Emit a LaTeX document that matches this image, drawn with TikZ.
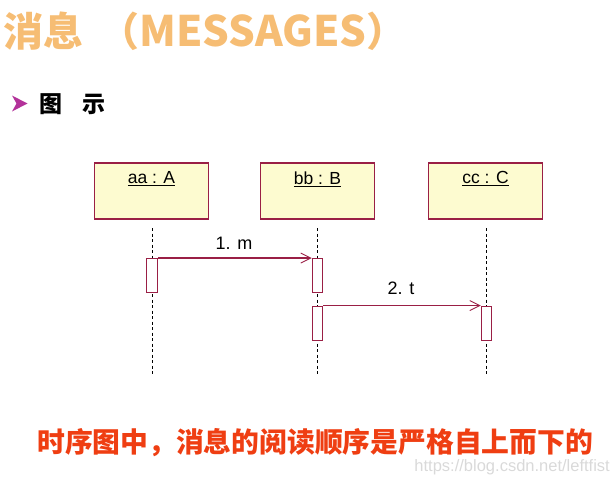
\documentclass[tikz,border=0pt]{standalone}
\usepackage{fontspec}
\setmainfont{Liberation Sans}
\newfontfamily\cjk{Noto Sans CJK SC}
\usetikzlibrary{arrows.meta}
\definecolor{boxfill}{HTML}{FDFBD0}
\definecolor{boxline}{HTML}{9A1F45}
\definecolor{titlecol}{HTML}{F6BD74}
\definecolor{bulletcol}{HTML}{B3329A}
\definecolor{notecol}{HTML}{EF3E12}
\definecolor{wmcol}{HTML}{D9D9D9}
\begin{document}
\begin{tikzpicture}[x=1pt,y=-1pt,
  objbox/.style={draw=boxline, line width=1.4pt, fill=boxfill, minimum width=114pt, minimum height=56pt, inner sep=0pt},
  objlabel/.style={font=\fontsize{17.5}{20}\selectfont, anchor=north, inner sep=0pt},
  lifeline/.style={black, line width=0.9pt, dash pattern=on 3pt off 2.5pt},
  actbox/.style={draw=boxline, line width=1pt, fill=white, minimum width=10.5pt, minimum height=34pt, inner sep=0pt},
  msg/.style={boxline, line width=1.1pt, -{Straight Barb[length=10pt,width=10pt,line width=0.9pt]}},
  msglabel/.style={font=\fontsize{18}{20}\selectfont, inner sep=1pt}
]
\useasboundingbox (0,0) rectangle (611,483);
% title
\node[anchor=west, inner sep=0pt, text=titlecol, font=\cjk\bfseries\fontsize{40}{44}\selectfont] (title) at (3,31) {消息\hspace{16pt}（{\fontsize{42}{46}\selectfont MESSAGES}）};
% bullet
\path[fill=bulletcol] (12,95.5) -- (27.5,103.5) -- (12,111.5) -- (16.5,103.5) -- cycle;
\node[anchor=west, inner sep=0pt, font=\cjk\bfseries\fontsize{23}{26}\selectfont] (sub) at (39,104) {图\hspace{20pt}示};
% objects
\node[objbox] (aa) at (151.5,191) {};
\node[objbox] (bb) at (317.5,191) {};
\node[objbox] (cc) at (485.5,191) {};
\node[objlabel] (aaL) at ([yshift=-9pt]aa.north) {\underline{aa : A}};
\node[objlabel] (bbL) at ([yshift=-9pt]bb.north) {\underline{bb : B}};
\node[objlabel] (ccL) at ([yshift=-9pt]cc.north) {\underline{cc : C}};
% lifelines
\coordinate (aTop) at (152,228);
\coordinate (aBot) at (152,376);
\coordinate (bTop) at (317.5,228);
\coordinate (bBot) at (317.5,376);
\coordinate (cTop) at (486.5,228);
\coordinate (cBot) at (486.5,376);
\draw[lifeline] (aTop) -- (aBot);
\draw[lifeline] (bTop) -- (bBot);
\draw[lifeline] (cTop) -- (cBot);
% activations
\node[actbox] (actA) at (152,275.5) {};
\node[actbox] (actB1) at (317.5,275.5) {};
\node[actbox] (actB2) at (317.5,323) {};
\node[actbox] (actC) at (486.5,323) {};
% messages
\draw[msg] (actA.north east) -- (actB1.north west);
\draw[msg] (actB2.north east) -- (actC.north west);
\node[msglabel] (m1) at (234,243) {1. m};
\node[msglabel] (m2) at (401,288) {2. t};
% note
\node[anchor=west, inner sep=0pt, text=notecol, font=\cjk\bfseries\fontsize{27.8}{30}\selectfont] (note) at (37,443) {时序图中，消息的阅读顺序是严格自上而下的};
% watermark
\node[anchor=east, inner sep=0pt, text=wmcol, font=\fontsize{16.5}{18}\selectfont] (wm) at (610,467) {https://blog.csdn.net/leftfist};
\end{tikzpicture}
\end{document}
